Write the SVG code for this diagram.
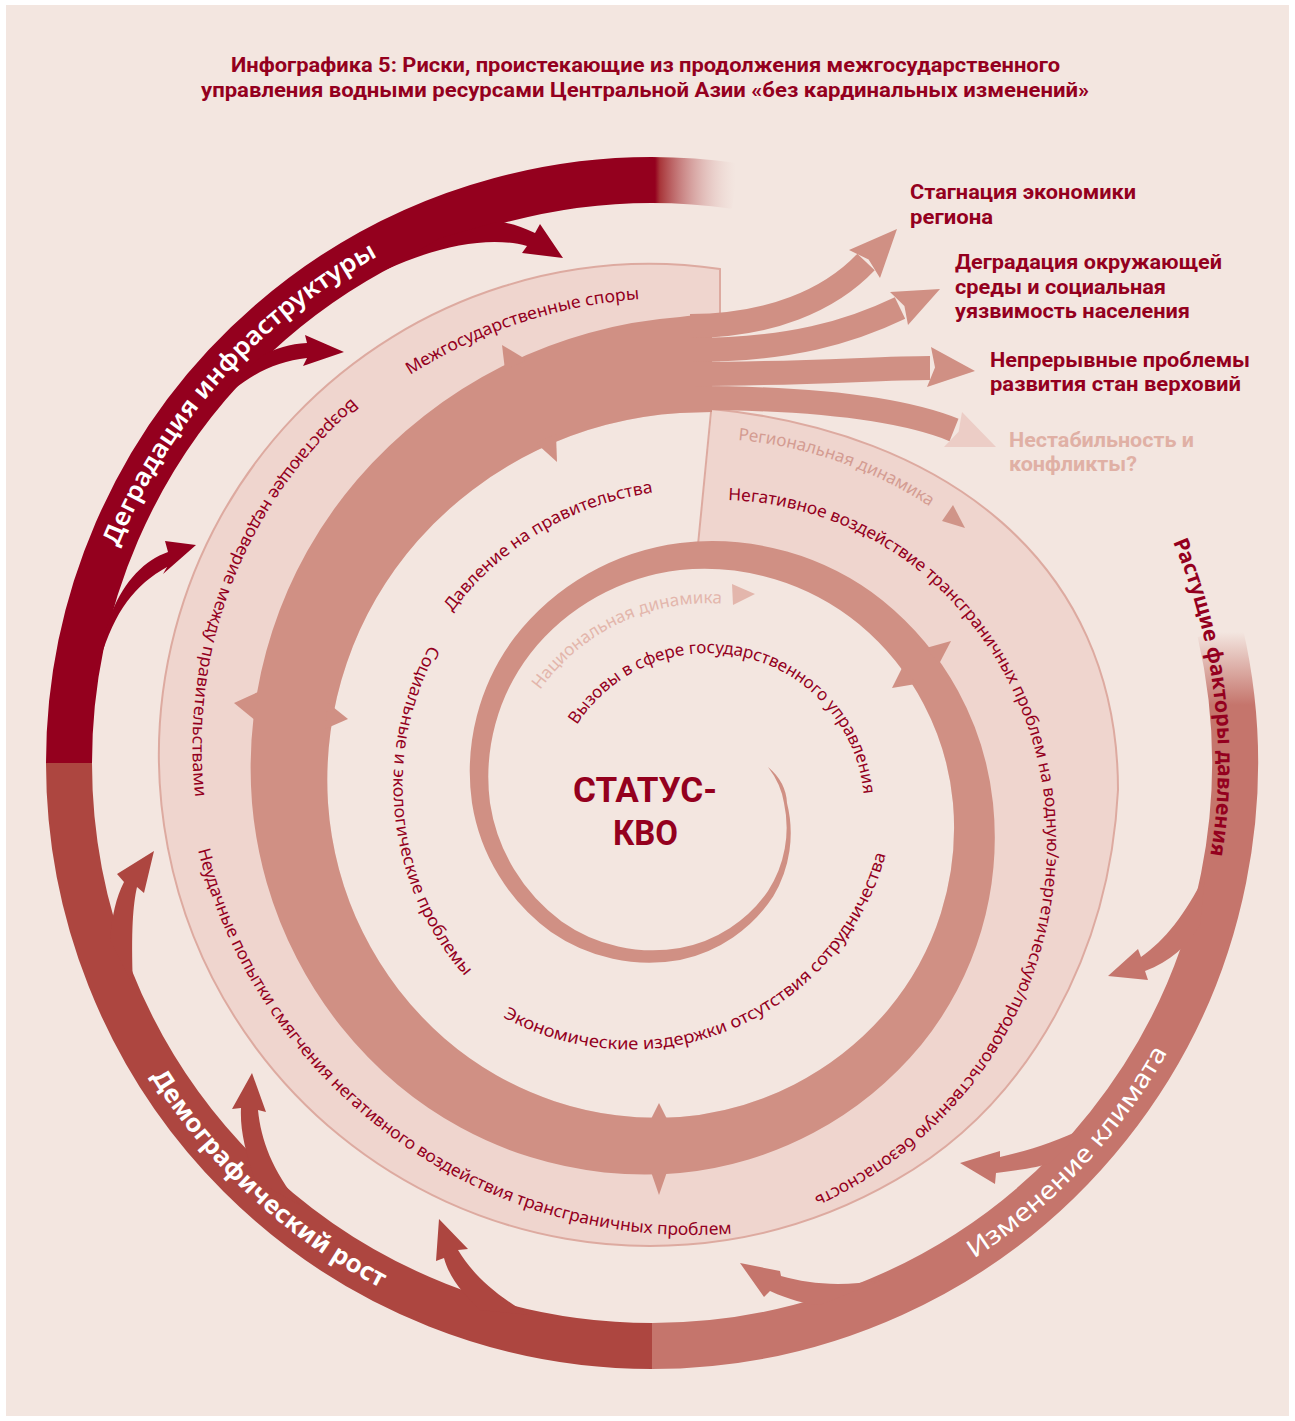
<svg xmlns="http://www.w3.org/2000/svg" width="1295" height="1421" viewBox="0 0 1295 1421">
<defs>
<style>
.lbl{font-family:"Noto Sans","DejaVu Sans",sans-serif;font-size:17px;fill:#94001E}
.hd{font-family:Roboto,"Liberation Sans",sans-serif;font-weight:700;fill:#94001E}
.out{font-family:Roboto,"Liberation Sans",sans-serif;font-weight:700;font-size:20px;fill:#94001E}
.ring{fill:none;stroke-width:46}
.band{fill:#D09084}
.shaft{fill:none;stroke:#D09084;stroke-width:24}
.bnd{fill:none;stroke:#DDAAA0;stroke-width:2}
.wht{font-family:"Noto Sans","DejaVu Sans",sans-serif;fill:#FFFFFF}
</style>
<linearGradient id="gRed" gradientUnits="userSpaceOnUse" x1="655" y1="0" x2="736" y2="0">
<stop offset="0" stop-color="#94001E"/>
<stop offset="0.06" stop-color="#A83539"/>
<stop offset="1" stop-color="#F3E6E0" stop-opacity="0.2"/>
</linearGradient>
<linearGradient id="gClim" gradientUnits="userSpaceOnUse" x1="0" y1="705" x2="0" y2="632">
<stop offset="0" stop-color="#C5756C"/>
<stop offset="1" stop-color="#C5756C" stop-opacity="0"/>
</linearGradient>
<linearGradient id="gExit" gradientUnits="userSpaceOnUse" x1="730" y1="0" x2="1000" y2="0">
<stop offset="0" stop-color="#D09084"/>
<stop offset="1" stop-color="#EFD3CC"/>
</linearGradient>
<path id="pDeg" d="M 117.9,547.2 A 576 576 0 0 1 381.6,254.4"/>
<path id="pDem" d="M 150.8,1076.2 A 591 591 0 0 0 383.7,1289.6"/>
<path id="pClim" d="M 973.9,1258.7 A 591 591 0 0 0 1168.9,1049.5"/>
<path id="pRast" d="M 1173,541.8 A 566 566 0 0 1 1208.5,866.1"/>
<path id="pMezh" d="M 410,375 A 500 500 0 0 1 642,299"/>
<path id="pVozr" d="M 352,398 A 460 460 0 0 0 196,802"/>
<path id="pNeud" d="M 198,850 A 510 510 0 0 0 738,1233"/>
<path id="pReg" d="M 738,440 A 420 420 0 0 1 935,510"/>
<path id="pNeg" d="M 728,500 A 322 322 0 0 1 915.2,567.8 A 351 351 0 0 1 1045,803 A 383.2 383.2 0 0 1 961,1084 A 409 409 0 0 1 808.8,1199.4"/>
<path id="pDavl" d="M 452,612 A 305 305 0 0 1 657,492"/>
<path id="pSoc" d="M 430,645 A 290 290 0 0 0 468,980"/>
<path id="pEcon" d="M 503,1017 A 265 265 0 0 0 887,850"/>
<path id="pVyz" d="M 577,725 A 156 156 0 0 1 864,798"/>
<path id="pNac" d="M 540,690 A 207 207 0 0 1 727,604"/>
</defs>

<rect x="0" y="0" width="1295" height="1421" fill="#FFFFFF"/>
<rect x="6" y="5" width="1283" height="1411" fill="#F3E6E0"/>

<g id="title">
<text class="hd" font-size="20" x="231" y="72" textLength="829" lengthAdjust="spacingAndGlyphs">Инфографика 5: Риски, проистекающие из продолжения межгосударственного</text>
<text class="hd" font-size="20" x="201" y="97" textLength="888" lengthAdjust="spacingAndGlyphs">управления водными ресурсами Центральной Азии «без кардинальных изменений»</text>
</g>

<g id="regional-area">
<path d="M 712,409 C 942,432 1118,560 1118,790 C 1110,949 1032.7,1101.9 895.5,1180.2 A 491 491 0 1 1 720,269 L 720,409 Z" fill="#EFD5CE"/>
<path class="bnd" d="M 712,409 C 942,432 1118,560 1118,790 C 1110,949 1032.7,1101.9 895.5,1180.2 A 491 491 0 1 1 720,269 L 720,330"/>
<path d="M 697,560 A 248.6 248.6 0 0 1 858.9,624.1 A 264.1 264.1 0 0 1 953,803 A 284.3 284.3 0 0 1 887.5,1010.5 A 304.7 304.7 0 0 1 680,1117 A 324.3 324.3 0 0 1 444.5,1038.5 A 343.3 343.3 0 0 1 328,803 A 362.2 362.2 0 0 1 417.7,540.7 A 381.1 381.1 0 0 1 680,413 L 712,412 Z" fill="#F3E6E0"/>
<path class="bnd" d="M 711,412 L 697,555"/>
</g>

<g id="outer-ring">
<path class="ring" stroke="#AD4640" d="M 652,1346 A 583 583 0 0 1 69,763"/>
<path class="ring" stroke="url(#gRed)" d="M 69,763 A 583 583 0 0 1 735.2,186"/>
<path class="ring" stroke="url(#gClim)" d="M 652,1346 A 583 583 0 0 0 1220.1,631.9"/>
</g>

<g id="connectors">
<g id="infra-arrows" fill="#94001E">
<path d="M 385,270 C 440,245 490,236 527,246 L 522,253 L 563,258 L 540,224 L 535,233 C 520,226 508,222 497,222 L 440,238 Z"/>
<path d="M 212,410 C 240,380 270,362 307,358 L 303,366 L 344,352 L 305,335 L 307,343 C 290,344 275,348 262,356 L 235,380 Z"/>
<path d="M 100,660 C 115,610 135,585 167,567 L 163,574 L 196,545 L 165,541 L 168,552 C 145,560 125,580 112,612 L 102,640 Z"/>
</g>
<g id="demo-arrows" fill="#AD4640">
<path d="M 110,940 C 112,915 116,898 124,882 L 117,874 L 154,851 L 144,893 L 137,887 C 133,905 131,930 133,985 Z"/>
<path d="M 255,1180 C 245,1150 240,1130 241,1108 L 232,1109 L 252,1073 L 266,1112 L 258,1110 C 261,1140 272,1170 300,1205 Z"/>
<path d="M 480,1310 C 465,1295 450,1280 444,1258 L 436,1261 L 439,1219 L 468,1249 L 458,1250 C 470,1270 490,1292 530,1315 Z"/>
</g>
<g id="climate-arrows" fill="#C5756C">
<path d="M 1205,875 C 1185,915 1165,940 1141,957 L 1138,949 L 1108,976 L 1148,980 L 1145,971 C 1170,962 1188,945 1200,925 Z"/>
<path d="M 1085,1128 C 1055,1142 1030,1150 1000,1157 L 1000,1151 L 960,1163 L 995,1184 L 996,1173 C 1020,1170 1040,1167 1050,1163 Z"/>
<path d="M 882,1280 C 840,1287 810,1284 781,1276 L 780,1271 L 740,1263 L 764,1297 L 770,1291 C 790,1300 805,1304 820,1305 Z"/>
</g>

<g id="spiral">
<path class="band" d="M 768,767 Q 786,782 787,803 A 123.2 123.2 0 0 1 773.3,896.3 A 147.6 147.6 0 0 1 680,960 A 172.5 172.5 0 0 1 551,932 A 197.7 197.7 0 0 1 472,803 A 223.3 223.3 0 0 1 514.5,637.5 A 249 249 0 0 1 680,543 A 275.1 275.1 0 0 1 882.6,600.4 A 301.4 301.4 0 0 1 993,803 A 329.1 329.1 0 0 1 921.5,1044.5 A 357.4 357.4 0 0 1 680,1173 A 386 386 0 0 1 397.9,1085.1 A 415 415 0 0 1 252,803 A 443.8 443.8 0 0 1 356.9,479.9 A 472.7 472.7 0 0 1 680,317 C 690,316 700,314 712,314 L 712,412 C 700,412 690,413 680,413 A 381.1 381.1 0 0 0 417.7,540.7 A 362.2 362.2 0 0 0 328,803 A 343.3 343.3 0 0 0 444.5,1038.5 A 324.3 324.3 0 0 0 680,1117 A 304.7 304.7 0 0 0 887.5,1010.5 A 284.3 284.3 0 0 0 953,803 A 264.1 264.1 0 0 0 858.9,624.1 A 244.2 244.2 0 0 0 680,570 A 223.8 223.8 0 0 0 530.4,653.4 A 202.5 202.5 0 0 0 490,803 A 180.8 180.8 0 0 0 561.6,921.4 A 158.6 158.6 0 0 0 680,948 A 137 137 0 0 0 768,891 A 116.8 116.8 0 0 0 784,803 Q 781,784 768,767 Z"/>
<polygon class="band" points="926,648 951,641 939,664"/>
<polygon class="band" points="903,666 892,688 916,684"/>
<polygon class="band" points="650,1169 659,1195 668,1169"/>
<polygon class="band" points="650,1121 659,1103 668,1121"/>
<polygon class="band" points="258,692 234,703 256,721"/>
<polygon class="band" points="328,703 348,719 325,729"/>
<polygon class="band" points="505,370 502,345 527,360"/>
<polygon class="band" points="536,443 557,462 556,434"/>
</g>

<g id="exit-arrows">
<path class="shaft" d="M 690,326 C 770,326 830,300 866,262"/>
<polygon class="band" points="897,229 849,250 868.6,259.6 880,278"/>
<path class="shaft" d="M 690,350 C 790,350 850,332 900,308"/>
<polygon class="band" points="940,289 890,292 904.4,305.9 908,325"/>
<path class="shaft" d="M 690,374 C 800,374 880,368 930,368"/>
<polygon class="band" points="975,371 931,347 935,367.5 927,387"/>
<path class="shaft" stroke="url(#gExit)" d="M 690,398 C 800,398 897,407 954,430"/>
<polygon fill="#ECCDC6" points="996,447 962,412 958.6,431.8 944,447"/>
</g>
<polygon fill="#D09488" points="953,505 942,521 965,528"/>
<polygon fill="#E3B6AC" points="732,584 755,594 733,605"/>
</g>

<g id="ring-labels">
<text class="wht" font-size="25" font-weight="600"><textPath href="#pDeg" textLength="398" lengthAdjust="spacingAndGlyphs">Деградация инфраструктуры</textPath></text>
<text class="wht" font-size="25" font-weight="700"><textPath href="#pDem" textLength="316" lengthAdjust="spacingAndGlyphs">Демографический рост</textPath></text>
<text class="wht" font-size="25"><textPath href="#pClim" textLength="286" lengthAdjust="spacingAndGlyphs">Изменение климата</textPath></text>
<text font-family="Noto Sans, DejaVu Sans, sans-serif" font-size="21" font-weight="700" fill="#94001E"><textPath href="#pRast" textLength="320" lengthAdjust="spacingAndGlyphs">Растущие факторы давления</textPath></text>
</g>

<g id="spiral-labels">
<text class="lbl"><textPath href="#pMezh" textLength="244" lengthAdjust="spacingAndGlyphs">Межгосударственные споры</textPath></text>
<text class="lbl"><textPath href="#pVozr" textLength="446" lengthAdjust="spacingAndGlyphs">Возрастающее недоверие между правительствами</textPath></text>
<text class="lbl"><textPath href="#pNeud" textLength="714" lengthAdjust="spacingAndGlyphs">Неудачные попытки смягчения негативного воздействия трансграничных проблем</textPath></text>
<text class="lbl" style="fill:#D49C92"><textPath href="#pReg" textLength="205" lengthAdjust="spacingAndGlyphs">Региональная динамика</textPath></text>
<text class="lbl"><textPath href="#pNeg" textLength="966" lengthAdjust="spacingAndGlyphs">Негативное воздействие трансграничных проблем на водную/энергетическую/продовольственную безопасность</textPath></text>
<text class="lbl"><textPath href="#pDavl" textLength="240" lengthAdjust="spacingAndGlyphs">Давление на правительства</textPath></text>
<text class="lbl"><textPath href="#pSoc" textLength="355" lengthAdjust="spacingAndGlyphs">Социальные и экологические проблемы</textPath></text>
<text class="lbl"><textPath href="#pEcon" textLength="478" lengthAdjust="spacingAndGlyphs">Экономические издержки отсутствия сотрудничества</textPath></text>
<text class="lbl"><textPath href="#pVyz" textLength="386" lengthAdjust="spacingAndGlyphs">Вызовы в сфере государственного управления</textPath></text>
<text class="lbl" style="fill:#E3B6AC"><textPath href="#pNac" textLength="210" lengthAdjust="spacingAndGlyphs">Национальная динамика</textPath></text>
</g>

<g id="center">
<text class="hd" font-size="35" x="645" y="802" text-anchor="middle" textLength="144" lengthAdjust="spacingAndGlyphs">СТАТУС-</text>
<text class="hd" font-size="35" x="645.5" y="845" text-anchor="middle" textLength="65" lengthAdjust="spacingAndGlyphs">КВО</text>
</g>

<g id="outcomes">
<g id="out-stagnation">
<text class="out" x="910" y="199" textLength="226" lengthAdjust="spacingAndGlyphs">Стагнация экономики</text>
<text class="out" x="910" y="224" textLength="83" lengthAdjust="spacingAndGlyphs">региона</text>
</g>
<g id="out-degradation">
<text class="out" x="955" y="269" textLength="267" lengthAdjust="spacingAndGlyphs">Деградация окружающей</text>
<text class="out" x="955" y="294" textLength="211" lengthAdjust="spacingAndGlyphs">среды и социальная</text>
<text class="out" x="955" y="318" textLength="235" lengthAdjust="spacingAndGlyphs">уязвимость населения</text>
</g>
<g id="out-upstream">
<text class="out" x="990" y="367" textLength="260" lengthAdjust="spacingAndGlyphs">Непрерывные проблемы</text>
<text class="out" x="990" y="391" textLength="251" lengthAdjust="spacingAndGlyphs">развития стан верховий</text>
</g>
<g id="out-conflict">
<text class="out" x="1009" y="447" textLength="185" lengthAdjust="spacingAndGlyphs" style="fill:#E0B0A5">Нестабильность и</text>
<text class="out" x="1009" y="471" textLength="128" lengthAdjust="spacingAndGlyphs" style="fill:#E0B0A5">конфликты?</text>
</g>
</g>
</svg>
